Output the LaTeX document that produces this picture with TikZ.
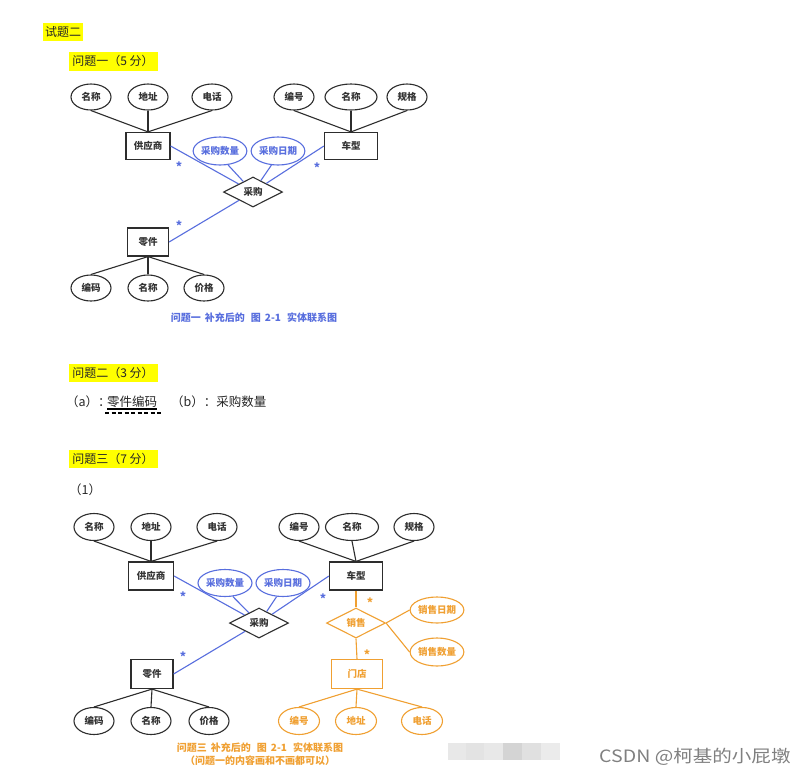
\documentclass[tikz,border=0pt]{standalone}
\usepackage{fontspec}
\setmainfont{Noto Sans CJK SC}
\usetikzlibrary{shapes.geometric}
\definecolor{erblue}{RGB}{88,110,222}
\definecolor{erorange}{RGB}{240,160,50}
\definecolor{erline}{RGB}{45,45,45}
\definecolor{hl}{RGB}{255,255,0}
\begin{document}
\begin{tikzpicture}[x=1pt,y=-1pt,
  attr/.style={draw=erline,line width=1.1pt,ellipse,inner sep=0pt,minimum width=40pt,minimum height=26pt,font=\fontsize{9.5}{10}\selectfont\bfseries,text=black!80},
  ent/.style={draw=erline,line width=1.2pt,rectangle,inner sep=0pt,minimum width=44pt,minimum height=27pt,font=\fontsize{9.5}{10}\selectfont\bfseries,text=black!80},
  rel/.style={draw=erline,line width=1.1pt,diamond,inner sep=0pt,minimum width=59pt,minimum height=30pt,font=\fontsize{9.5}{10}\selectfont\bfseries,text=black!80},
  conn/.style={draw=erline,line width=1.1pt},
  bconn/.style={draw=erblue,line width=1.1pt},
  oconn/.style={draw=erorange,line width=1.1pt},
  battr/.style={attr,draw=erblue,text=erblue},
  oattr/.style={attr,draw=erorange,text=erorange},
  head/.style={fill=hl,inner sep=0pt,font=\fontsize{12}{12}\selectfont,text=black!85},
  bstar/.style={text=erblue,font=\fontsize{12}{12}\selectfont\bfseries,inner sep=0pt},
  ostar/.style={text=erorange,font=\fontsize{12}{12}\selectfont\bfseries,inner sep=0pt},
  body/.style={inner sep=0pt,font=\fontsize{12.5}{13}\selectfont,text=black!85},
  captxt/.style={inner sep=0pt,font=\fontsize{10}{11}\selectfont\bfseries}
]
\useasboundingbox[fill=white] (0,0) rectangle (806,777);

% headings
\node[head,minimum width=40pt,minimum height=18pt] (h0) at (63,32) {试题二};
\node[head,minimum width=89pt,minimum height=19pt] (h1) at (113,61) {问题一（5 分）};

% ---------- diagram 1 ----------
\node[attr] (a1) at (91,97) {名称};
\node[attr] (a2) at (148,97) {地址};
\node[attr] (a3) at (212,97) {电话};
\node[attr] (b1) at (294,97) {编号};
\node[attr,minimum width=52pt] (b2) at (351,97) {名称};
\node[attr] (b3) at (407,97) {规格};
\node[ent] (sup) at (148,146) {供应商};
\node[ent,minimum width=53pt] (car) at (351,146) {车型};
\node[battr,minimum width=53pt,minimum height=28pt] (q1) at (220,151) {采购数量};
\node[battr,minimum width=53pt,minimum height=28pt] (q2) at (278,151) {采购日期};
\node[rel] (r1) at (253,192) {采购};
\node[ent,minimum width=41pt,minimum height=28pt] (part) at (148,242) {零件};
\node[attr] (c1) at (91,288) {编码};
\node[attr] (c2) at (148,288) {名称};
\node[attr] (c3) at (204,288) {价格};

\draw[conn] (a1.south) -- (sup.north);
\draw[conn] (a2.south) -- (sup.north);
\draw[conn] (a3.south) -- (sup.north);
\draw[conn] (b1.south) -- (car.north);
\draw[conn] (b2.south) -- (car.north);
\draw[conn] (b3.south) -- (car.north);
\draw[conn] (part.south) -- (c1.north);
\draw[conn] (part.south) -- (c2.north);
\draw[conn] (part.south) -- (c3.north);
\draw[bconn] (sup.east) -- (r1);
\draw[bconn] (car.west) -- (r1);
\draw[bconn] (part.east) -- (r1);
\draw[bconn] (q1.-60) -- (r1);
\draw[bconn] (q2.-115) -- (r1);

\node[bstar] (s1) at (179,167) {*};
\node[bstar] (s2) at (317,168) {*};
\node[bstar] (s3) at (179,226) {*};

\node[captxt,text=erblue] (cap1) at (254,318) {问题一\hspace{4pt}补充后的\hspace{6pt}图\hspace{4pt}2-1\hspace{6pt}实体联系图};

% ---------- question 2 ----------
\node[head,minimum width=89pt,minimum height=18pt] (h2) at (113,373) {问题二（3 分）};
\node[body,anchor=west] (ta) at (66,402) {（a）：};
\node[body,anchor=west] (tb) at (107,402) {零件编码};
\node[body,anchor=west] (tc) at (171,402) {（b）：采购数量};
\draw[black,line width=1.2pt] (tb.west |- 0,409) -- (tb.east |- 0,409);
\draw[black,line width=1.6pt,dash pattern=on 4pt off 2.5pt] (105,413) -- (162,413);

% ---------- question 3 ----------
\node[head,minimum width=89pt,minimum height=18pt] (h3) at (113,459) {问题三（7 分）};
\node[body,anchor=west] (t1) at (69,490) {（1）};

\node[attr,minimum height=27pt] (d1) at (94,527) {名称};
\node[attr,minimum height=27pt] (d2) at (151,527) {地址};
\node[attr,minimum height=27pt] (d3) at (217,527) {电话};
\node[attr,minimum height=27pt] (e1) at (299,527) {编号};
\node[attr,minimum width=53pt,minimum height=27pt] (e2) at (352,527) {名称};
\node[attr,minimum height=27pt] (e3) at (414,527) {规格};
\node[ent,minimum width=45pt,minimum height=28pt] (sup2) at (151,576) {供应商};
\node[ent,minimum width=53pt,minimum height=28pt] (car2) at (356,576) {车型};
\node[battr,minimum width=54pt,minimum height=27pt] (q3) at (225,583) {采购数量};
\node[battr,minimum width=54pt,minimum height=27pt] (q4) at (283,583) {采购日期};
\node[rel] (r2) at (259,623) {采购};
\node[ent,minimum width=42pt,minimum height=29pt] (part2) at (152,674) {零件};
\node[attr,minimum height=27pt] (f1) at (94,721) {编码};
\node[attr,minimum height=27pt] (f2) at (151,721) {名称};
\node[attr,minimum height=27pt] (f3) at (209,721) {价格};

\node[rel,draw=erorange,text=erorange] (sale) at (356,623) {销售};
\node[ent,draw=erorange,text=erorange,minimum width=51pt,minimum height=29pt] (store) at (357,674) {门店};
\node[oattr,minimum width=53pt,minimum height=26pt] (sd) at (437,610) {销售日期};
\node[oattr,minimum width=53pt,minimum height=28pt] (sq) at (437,652) {销售数量};
\node[oattr,minimum width=41pt,minimum height=27pt] (g1) at (299,721) {编号};
\node[oattr,minimum width=41pt,minimum height=27pt] (g2) at (356,721) {地址};
\node[oattr,minimum width=41pt,minimum height=27pt] (g3) at (422,721) {电话};

\draw[conn] (d1.south) -- (sup2.north);
\draw[conn] (d2.south) -- (sup2.north);
\draw[conn] (d3.south) -- (sup2.north);
\draw[conn] (e1.south) -- (car2.north);
\draw[conn] (e2.south) -- (car2.north);
\draw[conn] (e3.south) -- (car2.north);
\draw[conn] (part2.south) -- (f1.north);
\draw[conn] (part2.south) -- (f2.north);
\draw[conn] (part2.south) -- (f3.north);
\draw[bconn] (sup2.east) -- (r2);
\draw[bconn] (car2.west) -- (r2);
\draw[bconn] (part2.east) -- (r2);
\draw[bconn] (q3.-60) -- (r2);
\draw[bconn] (q4.-115) -- (r2);

\draw[oconn] (car2.south) -- (sale.north);
\draw[oconn] (sale.south) -- (store.north);
\draw[oconn] (sale.east) -- (sd.west);
\draw[oconn] (sale.east) -- (sq.west);
\draw[oconn] (store.south) -- (g1.north);
\draw[oconn] (store.south) -- (g2.north);
\draw[oconn] (store.south) -- (g3.north);

\node[bstar] (s4) at (183,597) {*};
\node[bstar] (s5) at (323,599) {*};
\node[bstar] (s6) at (183,657) {*};
\node[ostar] (s7) at (370,603) {*};
\node[ostar] (s8) at (367,655) {*};

\node[captxt,text=erorange] (cap2) at (260,748) {问题三\hspace{4pt}补充后的\hspace{6pt}图\hspace{4pt}2-1\hspace{6pt}实体联系图};
\node[captxt,text=erorange] (cap3) at (260,761) {（问题一的内容画和不画都可以）};

% blurred block and watermark
\fill[black!9] (448,743) rectangle (466,760);
\fill[black!11] (466,743) rectangle (484,760);
\fill[black!9] (484,743) rectangle (503,760);
\fill[black!17] (503,743) rectangle (522,760);
\fill[black!12] (522,743) rectangle (541,760);
\fill[black!8] (541,743) rectangle (560,760);
\node[inner sep=0pt,anchor=west,text=black!50,font=\fontsize{17}{18}\selectfont,xscale=1.15] (wm) at (599,757) {CSDN @柯基的小屁墩};
\end{tikzpicture}
\end{document}
